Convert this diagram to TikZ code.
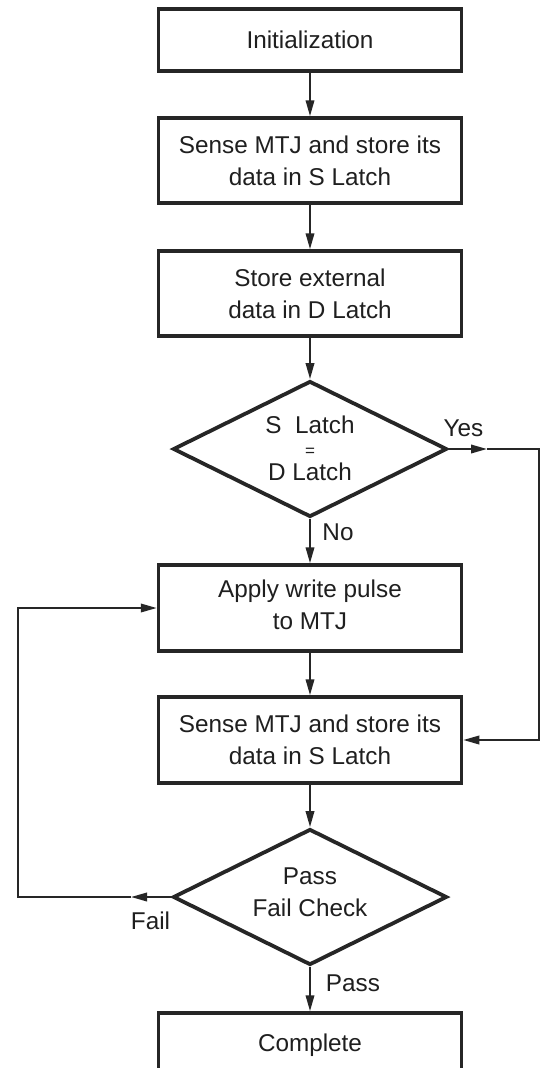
\documentclass[tikz,border=0pt]{standalone}
\usepackage{fontspec}
\setmainfont{Liberation Sans}
\usetikzlibrary{arrows.meta,shapes.geometric}

\begin{document}
\begin{tikzpicture}[x=1pt,y=-1pt,
  txt/.style={font=\fontsize{24.3}{32}\selectfont, text=black!88},
  stepbox/.style={txt, draw=black!85, line width=3.5pt, minimum width=303pt,
    inner sep=0pt, align=center},
  test/.style={txt, diamond, aspect=2, draw=black!85, line width=3.8pt,
    minimum width=274pt, minimum height=136pt, inner sep=0pt, align=center},
  conn/.style={draw=black!85, line width=2pt},
  tip/.style={-{Triangle[length=16pt,width=8.5pt]}},
  lbl/.style={txt, inner sep=0pt, anchor=base}
]
  % page frame
  \fill[white] (0,0) rectangle (541,1068);
  \useasboundingbox (0,0) rectangle (541,1068);

  % process steps and decisions
  \node[stepbox, minimum height=62pt] (init) at (310,40) {Initialization};
  \node[stepbox, minimum height=85pt] (sense1) at (310,160.5)
    {Sense MTJ and store its\\data in S Latch};
  \node[stepbox, minimum height=85pt] (store) at (310,293.5)
    {Store external\\data in D Latch};
  \node[test] (cmp) at (310,449)
    {S\ \ Latch\\[-8.5pt]{\fontsize{17}{17}\selectfont =}\\[-8.5pt]D Latch\rule[-2pt]{0pt}{2pt}};
  \node[stepbox, minimum height=86pt] (write) at (310,608)
    {Apply write pulse\\to MTJ\rule[-6pt]{0pt}{6pt}};
  \node[stepbox, minimum height=86pt] (sense2) at (310,740)
    {Sense MTJ and store its\\data in S Latch};
  \node[test] (chk) at (310,897) {Pass\\Fail Check\rule[-10pt]{0pt}{10pt}};
  \node[stepbox, minimum height=57pt, text height=20pt, text depth=0pt]
    (done) at (310,1041.5) {Complete};

  % main flow
  \draw[conn,tip] (init) -- (sense1);
  \draw[conn,tip] (sense1) -- (store);
  \draw[conn,tip] (store) -- (cmp);
  \draw[conn,tip] (cmp) -- (write);
  \draw[conn,tip] (write) -- (sense2);
  \draw[conn,tip] (sense2) -- (chk);
  \draw[conn,tip] (chk) -- (done);

  % "Yes" bypass on the right
  \coordinate (yesTip) at (487,449);
  \coordinate (yesCorner) at (539,449);
  \draw[conn,tip] (cmp.east) -- (yesTip);
  \draw[conn,tip] (yesTip) -- (yesCorner) |- (sense2.east);

  % "Fail" loop on the left
  \coordinate (failTip) at (131,897);
  \coordinate (failCorner) at (18,897);
  \draw[conn,tip] (chk.west) -- (failTip);
  \draw[conn,tip] (failTip) -- (failCorner) |- (write.west);

  % branch labels
  \node[lbl] (yesLbl) at (463.5,436) {Yes};
  \node[lbl] (noLbl) at (338,540) {No};
  \node[lbl] (failLbl) at (150.5,929) {Fail};
  \node[lbl] (passLbl) at (353,991) {Pass};
\end{tikzpicture}
\end{document}
